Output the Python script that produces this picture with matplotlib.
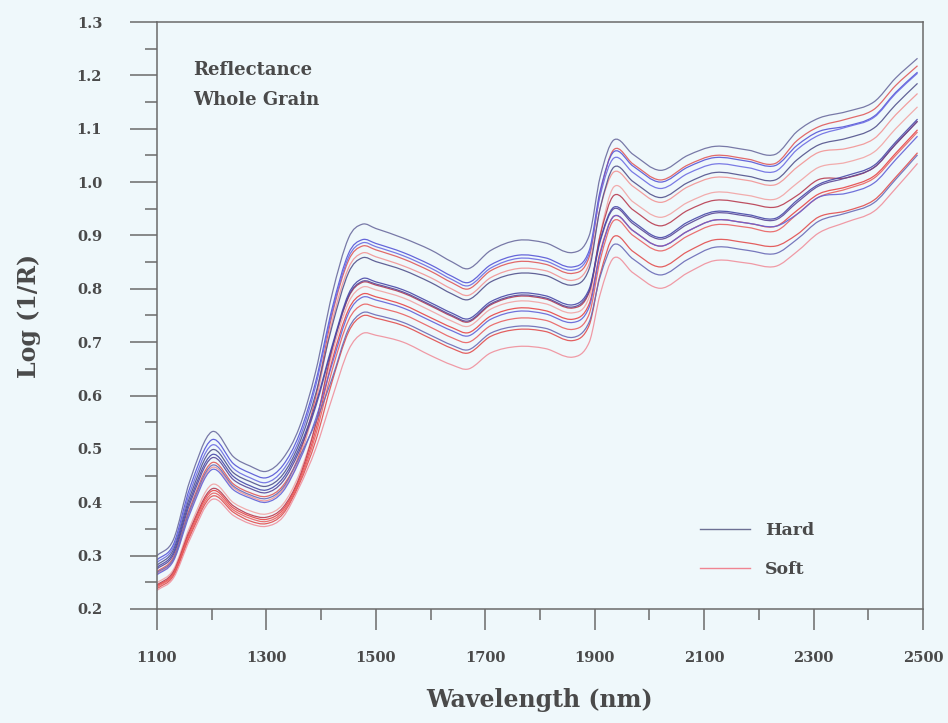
import matplotlib
matplotlib.use("Agg")
import matplotlib.pyplot as plt
from matplotlib.ticker import MultipleLocator, FormatStrFormatter
from matplotlib.lines import Line2D
from matplotlib.path import Path
from matplotlib.patches import PathPatch

# ---------------- data ----------------
wavelength = [1100, 1130, 1160, 1200, 1240, 1270, 1300, 1330, 1360, 1390,
              1420, 1450, 1475, 1500, 1550, 1600, 1640, 1670, 1710, 1760,
              1810, 1860, 1890, 1910, 1935, 1970, 2020, 2070, 2120, 2180,
              2230, 2270, 2310, 2360, 2410, 2450, 2490]

hard_1 = [.300, .330, .440, .532, .485, .468, .458, .482, .540, .645,
          .790, .895, .921, .913, .895, .873, .850, .838, .872, .891,
          .886, .868, .900, 1.010, 1.079, 1.052, 1.022, 1.050, 1.067, 1.060,
          1.052, 1.095, 1.120, 1.132, 1.150, 1.195, 1.232]
hard_2 = [.292, .321, .427, .517, .472, .455, .446, .469, .527, .626,
          .763, .866, .892, .885, .868, .845, .823, .812, .845, .863,
          .858, .841, .872, .984, 1.057, 1.030, 1.000, 1.028, 1.046, 1.039,
          1.031, 1.069, 1.095, 1.105, 1.123, 1.168, 1.206]
hard_3 = [.287, .316, .418, .507, .463, .446, .437, .460, .518, .618,
          .757, .859, .886, .879, .862, .839, .817, .806, .839, .857,
          .852, .835, .866, .975, 1.045, 1.018, .988, 1.016, 1.034, 1.027,
          1.020, 1.061, 1.088, 1.103, 1.121, 1.166, 1.204]
hard_4 = [.282, .311, .410, .498, .455, .439, .430, .452, .510, .603,
          .730, .830, .858, .851, .835, .812, .790, .780, .813, .829,
          .825, .807, .838, .951, 1.028, 1.001, .971, .999, 1.018, 1.011,
          1.004, 1.042, 1.070, 1.082, 1.101, 1.145, 1.185]
hard_5 = [.275, .302, .397, .483, .442, .426, .418, .439, .496, .579,
          .689, .786, .814, .809, .794, .770, .750, .740, .772, .788,
          .783, .766, .796, .889, .950, .922, .893, .921, .942, .936,
          .929, .962, .993, 1.008, 1.027, 1.071, 1.114]
hard_6 = [.264, .290, .378, .461, .423, .408, .400, .420, .477, .556,
          .659, .754, .784, .779, .764, .740, .721, .712, .743, .758,
          .753, .737, .766, .865, .936, .909, .880, .908, .929, .923,
          .917, .940, .972, .979, .998, 1.042, 1.086]
hard_7 = [.268, .294, .385, .469, .430, .414, .407, .427, .484, .550,
          .632, .725, .755, .751, .737, .713, .694, .686, .717, .730,
          .726, .709, .738, .823, .883, .856, .826, .855, .878, .872,
          .866, .893, .927, .942, .961, 1.005, 1.051]
hard_8 = [.278, .306, .403, .489, .448, .431, .423, .445, .502, .584,
          .693, .790, .819, .813, .798, .774, .754, .744, .776, .792,
          .787, .770, .800, .892, .953, .926, .896, .925, .945, .939,
          .932, .966, .996, 1.012, 1.031, 1.075, 1.118]

soft_1 = [.270, .297, .389, .474, .434, .418, .411, .431, .489, .597,
          .751, .853, .880, .873, .856, .833, .811, .800, .834, .851,
          .846, .829, .860, .979, 1.061, 1.034, 1.004, 1.032, 1.050, 1.043,
          1.035, 1.078, 1.104, 1.118, 1.136, 1.181, 1.218]
soft_2 = [.266, .292, .382, .465, .427, .411, .403, .424, .481, .587,
          .738, .839, .867, .860, .843, .821, .799, .788, .821, .838,
          .834, .816, .847, .951, 1.019, .992, .962, .991, 1.009, 1.003,
          .995, 1.028, 1.056, 1.063, 1.081, 1.126, 1.166]
soft_3 = [.249, .274, .354, .433, .399, .384, .378, .396, .453, .546,
          .678, .774, .803, .798, .783, .759, .739, .730, .762, .777,
          .772, .755, .785, .902, .991, .963, .934, .962, .981, .975,
          .968, .998, 1.028, 1.037, 1.056, 1.100, 1.141]
soft_4 = [.245, .270, .348, .425, .393, .377, .372, .390, .446, .546,
          .687, .784, .812, .807, .792, .768, .748, .738, .770, .786,
          .781, .764, .794, .900, .975, .948, .918, .947, .966, .960,
          .953, .975, 1.005, 1.008, 1.027, 1.071, 1.114]
soft_5 = [.243, .267, .344, .421, .389, .374, .368, .386, .442, .535,
          .665, .761, .790, .785, .770, .746, .727, .718, .749, .764,
          .759, .743, .772, .869, .936, .909, .880, .908, .929, .923,
          .917, .947, .978, .991, 1.011, 1.054, 1.098]
soft_6 = [.241, .265, .340, .416, .385, .370, .364, .382, .438, .526,
          .647, .741, .770, .766, .752, .728, .708, .700, .731, .745,
          .741, .724, .753, .854, .928, .900, .871, .899, .920, .915,
          .908, .940, .972, .987, 1.007, 1.050, 1.094]
soft_7 = [.238, .262, .336, .411, .381, .365, .360, .378, .434, .515,
          .626, .719, .749, .745, .731, .707, .688, .680, .711, .724,
          .720, .703, .732, .827, .898, .870, .841, .870, .892, .886,
          .880, .902, .935, .946, .966, 1.009, 1.055]
soft_8 = [.235, .258, .330, .405, .375, .360, .355, .372, .428, .500,
          .595, .685, .716, .713, .700, .675, .657, .650, .680, .692,
          .688, .672, .700, .790, .858, .830, .801, .830, .853, .848,
          .842, .870, .905, .925, .945, .988, 1.035]

hard_spectra = [hard_1, hard_2, hard_3, hard_4, hard_5, hard_6, hard_7, hard_8]
soft_spectra = [soft_1, soft_2, soft_3, soft_4, soft_5, soft_6, soft_7, soft_8]

y_ticks = [0.2, 0.3, 0.4, 0.5, 0.6, 0.7, 0.8, 0.9, 1.0, 1.1, 1.2, 1.3]
x_ticks = [1100, 1300, 1500, 1700, 1900, 2100, 2300, 2500]

# ---------------- styling ----------------
bg = '#eff8fb'
txt = '#4a4a4a'
hard_colors = ['#6b6b9e', '#5656d6', '#6c6ce2', '#52528c', '#5a4898',
               '#6262d6', '#6a6ab6', '#4848a8']
soft_colors = ['#e05a5a', '#f29494', '#f2a4a4', '#b83c50', '#e84646',
               '#ea6262', '#e24e4e', '#f0909c']

plt.rcParams['font.family'] = ['DejaVu Serif']
plt.rcParams['font.weight'] = 'bold'


def smooth_path(xs, ys):
    """Bezier path through the read points (drawing only, no new data)."""
    n = len(xs)
    slopes = []
    for i in range(n):
        a = max(i - 1, 0)
        b = min(i + 1, n - 1)
        slopes.append((ys[b] - ys[a]) / (xs[b] - xs[a]))
    verts = [(xs[0], ys[0])]
    codes = [Path.MOVETO]
    for i in range(n - 1):
        h = xs[i + 1] - xs[i]
        verts += [(xs[i] + h / 3, ys[i] + slopes[i] * h / 3),
                  (xs[i + 1] - h / 3, ys[i + 1] - slopes[i + 1] * h / 3),
                  (xs[i + 1], ys[i + 1])]
        codes += [Path.CURVE4] * 3
    return Path(verts, codes)


fig = plt.figure(figsize=(9.48, 7.23), dpi=100, facecolor=bg)
ax = fig.add_axes([157 / 948, 1 - 609 / 723, 766 / 948, 587 / 723])
ax.set_facecolor(bg)

for i in range(len(hard_spectra)):
    for spec, col in ((soft_spectra[i], soft_colors[i]),
                      (hard_spectra[i], hard_colors[i])):
        ax.add_patch(PathPatch(smooth_path(wavelength, spec), fill=False,
                               edgecolor=col, lw=0.9, alpha=0.9,
                               joinstyle='round'))

ax.set_xlim(1100, 2500)
ax.set_ylim(0.2, 1.3)
ax.set_xticks(x_ticks)
ax.set_yticks(y_ticks)
ax.xaxis.set_minor_locator(MultipleLocator(100))
ax.yaxis.set_minor_locator(MultipleLocator(0.05))
ax.yaxis.set_major_formatter(FormatStrFormatter('%.1f'))

for s in ax.spines.values():
    s.set_color('#6a6a6a')
    s.set_linewidth(1.1)

ax.tick_params(axis='y', which='major', direction='out', length=19.5,
               width=1.1, color='#6a6a6a', pad=20, labelsize=10.5,
               labelcolor=txt)
ax.tick_params(axis='y', which='minor', direction='out', length=8.6,
               width=1.1, color='#6a6a6a')
ax.tick_params(axis='x', which='major', direction='out', length=15,
               width=1.1, color='#6a6a6a', pad=15, labelsize=10.5,
               labelcolor=txt)
ax.tick_params(axis='x', which='minor', direction='out', length=8,
               width=1.1, color='#6a6a6a')
for lab in ax.get_xticklabels() + ax.get_yticklabels():
    lab.set_fontweight('bold')

ax.set_xlabel('Wavelength (nm)', fontsize=17, fontweight='bold',
              color=txt, labelpad=17)
ax.set_ylabel('Log (1/R)', fontsize=17, fontweight='bold',
              color=txt, labelpad=26)

ax.text(0.047, 0.918, 'Reflectance', transform=ax.transAxes,
        fontsize=13, fontweight='bold', color=txt, va='center', ha='left')
ax.text(0.047, 0.867, 'Whole Grain', transform=ax.transAxes,
        fontsize=13, fontweight='bold', color=txt, va='center', ha='left')

handles = [Line2D([], [], color='#6d7094', lw=1.0),
           Line2D([], [], color='#f08592', lw=1.0)]
ax.legend(handles, ['Hard', 'Soft'], loc='center left',
          bbox_to_anchor=(0.709, 0.1005), frameon=False, borderpad=0,
          borderaxespad=0, handlelength=2.9, handletextpad=0.85,
          labelspacing=1.3, prop={'family': 'DejaVu Serif', 'weight': 'bold',
                                  'size': 12.5}, labelcolor=txt)

fig.savefig('out.png', dpi=100, facecolor=bg)
